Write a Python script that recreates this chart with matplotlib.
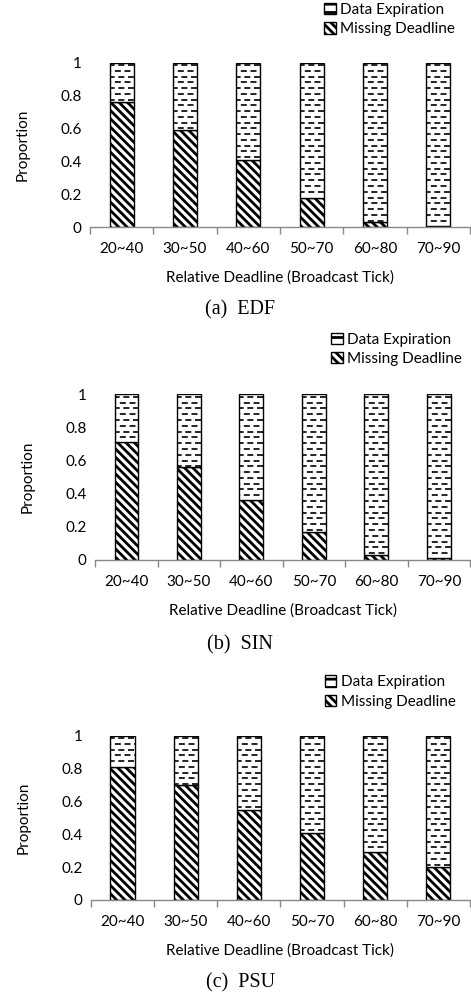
import numpy as np
import matplotlib
matplotlib.use("Agg")
import matplotlib.pyplot as plt
from matplotlib.patches import Patch

plt.rcParams['font.family'] = ['Lato', 'DejaVu Sans']
plt.rcParams['hatch.linewidth'] = 2.0

categories = ['20~40', '30~50', '40~60', '50~70', '60~80', '70~90']

# Missing Deadline / Data Expiration proportions per scheme
edf_missing = [0.76, 0.59, 0.41, 0.18, 0.03, 0.005]
edf_expired = [0.24, 0.41, 0.59, 0.82, 0.97, 0.995]
sin_missing = [0.715, 0.56, 0.36, 0.17, 0.03, 0.01]
sin_expired = [0.285, 0.44, 0.64, 0.83, 0.97, 0.99]
psu_missing = [0.81, 0.70, 0.55, 0.41, 0.29, 0.20]
psu_expired = [0.19, 0.30, 0.45, 0.59, 0.71, 0.80]

panels = [
    ('(a)  EDF', edf_missing, edf_expired),
    ('(b)  SIN', sin_missing, sin_expired),
    ('(c)  PSU', psu_missing, psu_expired),
]

# figure layout (fractions of the figure)
ax_rects = [[0.191, 0.772, 0.807, 0.165],
            [0.202, 0.438, 0.796, 0.166],
            [0.193, 0.0964, 0.805, 0.165]]
legend_anchor = [(0.688, 0.997), (0.703, 0.666), (0.690, 0.322)]
caption_y = [0.689, 0.353, 0.013]

STRIPES = '\\' * 4

fig = plt.figure(figsize=(4.71, 9.96), dpi=100)
x = np.arange(len(categories))
width = 0.38

for i, (caption, missing, expired) in enumerate(panels):
    ax = fig.add_axes(ax_rects[i])
    ax.bar(x, missing, width, color='white', edgecolor='black',
           linewidth=1.0, hatch=STRIPES)
    tops = ax.bar(x, expired, width, bottom=missing, color='white',
                  edgecolor='black', linewidth=1.0)
    # dashed texture for the Data Expiration segments
    for j, bar in enumerate(tops):
        rows = np.arange(0.985, missing[j], -0.035)
        for k, yy in enumerate(rows):
            ln, = ax.plot([x[j] - width / 2, x[j] + width / 2], [yy, yy],
                          color='black', lw=1.2, dash_capstyle='butt',
                          linestyle=(2.9 if k % 2 else 0.8, (3.6, 2.2)))
            ln.set_clip_path(bar)

    ax.set_xlim(-0.5, len(categories) - 0.5)
    ax.set_ylim(0, 1)
    ax.set_yticks([0, 0.2, 0.4, 0.6, 0.8, 1.0])
    ax.set_yticklabels(['0', '0.2', '0.4', '0.6', '0.8', '1'])
    ax.set_xticks(x)
    ax.set_xticklabels(categories)
    ax.set_xticks(np.arange(-0.5, len(categories)), minor=True)
    ax.tick_params(axis='x', which='major', length=0, pad=11, labelsize=11)
    ax.tick_params(axis='x', which='minor', length=5, color='#888888', width=1)
    ax.tick_params(axis='y', length=0, pad=6, labelsize=11)
    for s in ['top', 'right', 'left']:
        ax.spines[s].set_visible(False)
    ax.spines['bottom'].set_color('#888888')
    ax.spines['bottom'].set_linewidth(1.0)
    ax.set_xlabel('Relative Deadline (Broadcast Tick)', fontsize=11, labelpad=10)
    ax.set_ylabel('Proportion', fontsize=11, labelpad=22)

    handles = [Patch(facecolor='white', edgecolor='black', hatch='--', label='Data Expiration'),
               Patch(facecolor='white', edgecolor='black', hatch=STRIPES, label='Missing Deadline')]
    fig.legend(handles=handles, loc='upper left', bbox_to_anchor=legend_anchor[i],
               frameon=False, fontsize=11, handlelength=0.75, handleheight=0.75,
               handletextpad=0.3, labelspacing=0.35, borderpad=0, borderaxespad=0)

    fig.text(0.51, caption_y[i], caption, ha='center', va='center',
             family='Liberation Serif', fontsize=14.5)

fig.savefig('out.png', dpi=100)
